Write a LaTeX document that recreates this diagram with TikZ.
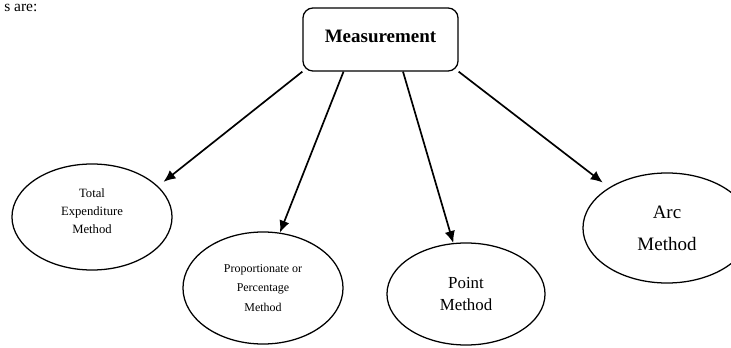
\documentclass[tikz,border=0pt]{standalone}
\usepackage{fontspec}
\setmainfont{Liberation Serif}
\usetikzlibrary{shapes.geometric,arrows.meta}

\begin{document}
\begin{tikzpicture}[x=0.025cm,y=-0.025cm,
    method/.style={ellipse,draw,line width=0.9pt,align=center,inner sep=0pt},
    link/.style={line width=1.2pt,-{Latex[length=3mm,width=2.6mm]}}]
    \useasboundingbox (0,0) rectangle (731,348);

    % Text at the top of the page
    \node[anchor=base west,inner sep=0pt,font=\fontsize{11}{13}\selectfont] (intro) at (4,12) {s are:};

    % Top box
    \node[draw,rounded corners=0.25cm,line width=0.9pt,minimum width=3.875cm,minimum height=1.575cm,
        font=\bfseries\fontsize{13.5}{16}\selectfont] (meas) at (380.5,39.5) {\raisebox{0.16cm}{Measurement}};

    % Methods
    \node[method,minimum width=4cm,minimum height=2.65cm,
        label={[name=totaltext,align=center,yshift=0.15cm,font=\fontsize{9}{13}\selectfont]center:Total\\Expenditure\\Method}] (total) at (92,217) {};
    \node[method,minimum width=4cm,minimum height=2.8cm,font=\fontsize{8.5}{14}\selectfont] (prop) at (263,288) {Proportionate or\\Percentage\\Method};
    \node[method,minimum width=3.95cm,minimum height=2.55cm,font=\fontsize{12}{15.6}\selectfont] (point) at (466,294) {Point\\Method};
    \node[method,minimum width=4.2cm,minimum height=2.75cm,font=\fontsize{13.5}{22.7}\selectfont] (arc) at (667,228) {Arc\\Method};

    % Arrows
    \draw[link,shorten >=0.175cm] (meas.south west) -- (total.25);
    \draw[link] (meas.221) -- (prop.73);
    \draw[link] (meas.305) -- (point.104);
    \draw[link,shorten >=0.2cm] (meas.south east) -- (arc.145);
\end{tikzpicture}
\end{document}
